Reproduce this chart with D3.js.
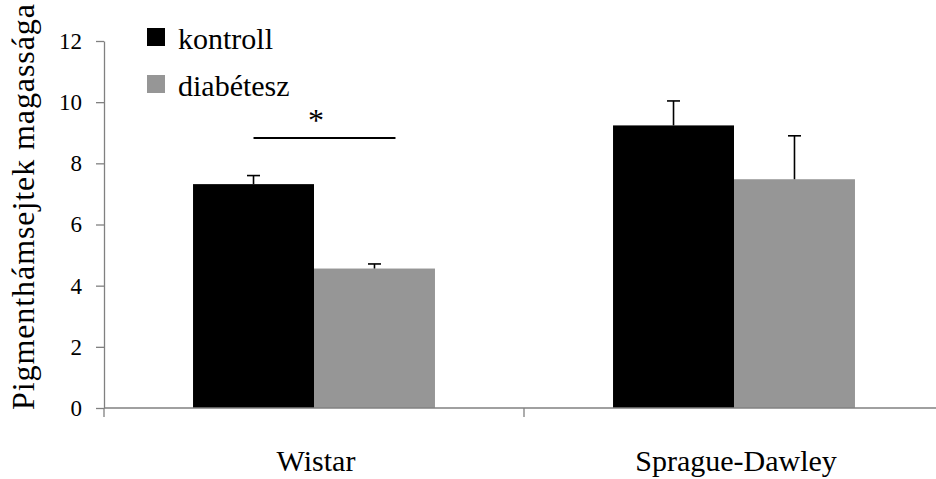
<!DOCTYPE html>
<html>
<head>
<meta charset="utf-8">
<script src="https://cdn.jsdelivr.net/npm/d3@7"></script>
<style>
  html, body { margin: 0; padding: 0; background: #fff; }
  svg { display: block; }
</style>
</head>
<body>
<svg id="chart" width="936" height="479"></svg>
<script>
const categories = ["Wistar", "Sprague-Dawley"];
const seriesNames = ["kontroll", "diabétesz"];
const seriesColors = ["#000000", "#969696"];
const kontrollValues = [7.32, 9.24];
const diabetesValues = [4.56, 7.48];
const kontrollErrors = [0.28, 0.80];
const diabetesErrors = [0.15, 1.42];
const yTicks = [0, 2, 4, 6, 8, 10, 12];
const yTitle = "Pigmenthámsejtek magassága";
const significanceMark = "*";

const FONT = "'Liberation Serif', 'Times New Roman', Times, Tinos, 'DejaVu Serif', serif";

const svg = d3.select("#chart").attr("font-family", FONT);

const x0 = d3.scaleBand().domain(categories).range([104, 944]).padding(0);
const x1 = d3.scaleBand().domain(seriesNames).range([0, x0.bandwidth()]).paddingInner(0).paddingOuter(0.736);
const y = d3.scaleLinear().domain([0, 12]).range([408, 41]);
const color = d3.scaleOrdinal().domain(seriesNames).range(seriesColors);

const rows = categories.map((c, i) => ({
  category: c,
  values: [
    { series: seriesNames[0], value: kontrollValues[i], err: kontrollErrors[i] },
    { series: seriesNames[1], value: diabetesValues[i], err: diabetesErrors[i] }
  ]
}));

// bars
const groups = svg.append("g").selectAll("g").data(rows).join("g")
  .attr("transform", d => `translate(${x0(d.category)},0)`);

groups.selectAll("rect").data(d => d.values).join("rect")
  .attr("x", d => x1(d.series))
  .attr("y", d => y(d.value))
  .attr("width", x1.bandwidth())
  .attr("height", d => y(0) - y(d.value))
  .attr("fill", d => color(d.series));

// error bars
const eb = groups.selectAll("g.err").data(d => d.values).join("g").attr("class", "err");
eb.append("line")
  .attr("x1", d => x1(d.series) + x1.bandwidth() / 2)
  .attr("x2", d => x1(d.series) + x1.bandwidth() / 2)
  .attr("y1", d => y(d.value))
  .attr("y2", d => y(d.value + d.err))
  .attr("stroke", "#000").attr("stroke-width", 1.6);
eb.append("line")
  .attr("x1", d => x1(d.series) + x1.bandwidth() / 2 - 6.5)
  .attr("x2", d => x1(d.series) + x1.bandwidth() / 2 + 6.5)
  .attr("y1", d => y(d.value + d.err))
  .attr("y2", d => y(d.value + d.err))
  .attr("stroke", "#000").attr("stroke-width", 1.6);

// y axis
const yAxis = svg.append("g").attr("transform", "translate(104,0)")
  .call(d3.axisLeft(y).tickValues(yTicks).tickSize(8).tickSizeOuter(0).tickPadding(14).tickFormat(d3.format("d")));
yAxis.attr("font-family", FONT).attr("font-size", 23);
yAxis.selectAll("path, line").attr("stroke", "#808080").attr("stroke-width", 1.3);
yAxis.selectAll("text").attr("fill", "#000");

// x axis
const xAxis = svg.append("g").attr("transform", "translate(0,408)");
xAxis.append("line").attr("x1", 104).attr("x2", 944).attr("y1", 0).attr("y2", 0)
  .attr("stroke", "#808080").attr("stroke-width", 1.3);
const boundaries = [x0.range()[0]].concat(categories.map(c => x0(c) + x0.bandwidth()));
xAxis.selectAll("line.tick").data(boundaries).join("line").attr("class", "tick")
  .attr("x1", d => d).attr("x2", d => d).attr("y1", 0).attr("y2", 9)
  .attr("stroke", "#808080").attr("stroke-width", 1.3);
xAxis.selectAll("text").data(categories).join("text")
  .attr("x", d => x0(d) + x0.bandwidth() / 2 + 2)
  .attr("y", 63)
  .attr("text-anchor", "middle")
  .attr("font-size", 30)
  .attr("fill", "#000")
  .text(d => d);

// y title
svg.append("text")
  .attr("transform", "translate(34,410) rotate(-90)")
  .attr("text-anchor", "start")
  .attr("font-size", 32)
  .attr("textLength", 406)
  .attr("lengthAdjust", "spacing")
  .attr("fill", "#000")
  .text(yTitle);

// significance
const sigY = 138;
svg.append("line")
  .attr("x1", x0(categories[0]) + x1(seriesNames[0]) + x1.bandwidth() / 2)
  .attr("x2", x0(categories[0]) + x1(seriesNames[1]) + x1.bandwidth() / 2 + 21)
  .attr("y1", sigY).attr("y2", sigY)
  .attr("stroke", "#000").attr("stroke-width", 2.2);
svg.append("text")
  .attr("x", x0(categories[0]) + x0.bandwidth() / 2 + 2)
  .attr("y", 131)
  .attr("text-anchor", "middle")
  .attr("font-size", 32)
  .attr("fill", "#000")
  .text(significanceMark);

// legend
const legend = svg.append("g").selectAll("g").data(seriesNames).join("g")
  .attr("transform", (d, i) => `translate(147,${28 + i * 47})`);
legend.append("rect").attr("width", 18).attr("height", 18).attr("fill", d => color(d));
legend.append("text").attr("x", 31).attr("y", 21).attr("font-size", 30).attr("fill", "#000").text(d => d);
</script>
</body>
</html>
